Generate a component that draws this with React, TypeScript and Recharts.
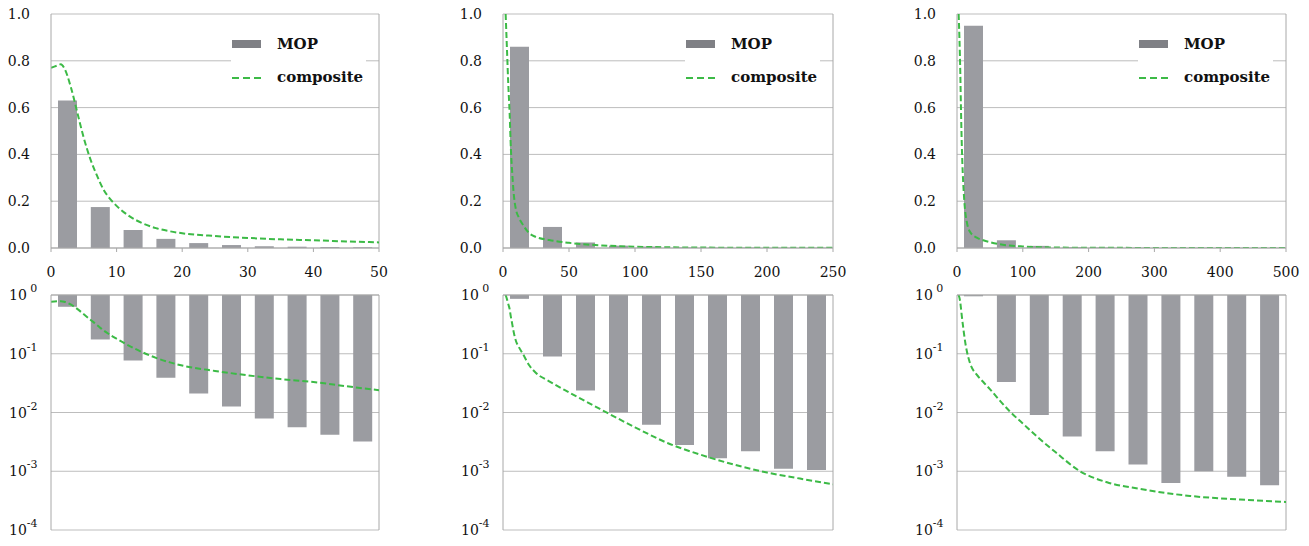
import React from "react";
import {
  ComposedChart,
  Bar,
  Line,
  XAxis,
  YAxis,
  CartesianGrid,
  ReferenceLine,
  Legend,
} from "recharts";

const FONT = '"DejaVu Serif", "Liberation Serif", serif';
const TEXT = "#111";
const BAR_GRAY = "#9b9ca1";
const ICON_GRAY = "#7f8085";
const GREEN = "#3cba46";
const AXIS_GRAY = "#a8a8a8";
const GRID_GRAY = "#bdbdbd";

// bin centres of the MOP bars, one list per column
const binsA = [2.5, 7.5, 12.5, 17.5, 22.5, 27.5, 32.5, 37.5, 42.5, 47.5];
const binsB = [12.5, 37.5, 62.5, 87.5, 112.5, 137.5, 162.5, 187.5, 212.5, 237.5];
const binsC = [25, 75, 125, 175, 225, 275, 325, 375, 425, 475];

// MOP bar heights
const mopA = [0.63, 0.175, 0.077, 0.039, 0.021, 0.0126, 0.0079, 0.0056, 0.0042, 0.0032];
const mopB = [0.86, 0.09, 0.0236, 0.01, 0.0062, 0.0028, 0.00167, 0.0022, 0.0011, 0.00105];
const mopC = [0.95, 0.033, 0.0091, 0.0039, 0.0022, 0.0013, 0.00063, 0.001, 0.00081, 0.00058];

// composite curve
const compXA = [0, 1, 1.5, 2, 3, 4, 5, 6, 7, 8, 9, 10, 12, 14, 16, 18, 20, 25, 30, 35, 40, 45, 50];
const compYA = [0.77, 0.78, 0.785, 0.77, 0.69, 0.58, 0.47, 0.38, 0.31, 0.25, 0.21, 0.18, 0.135, 0.105, 0.085, 0.072, 0.063, 0.051, 0.043, 0.037, 0.033, 0.028, 0.024];
const compXB = [2, 3, 4, 5, 6, 7, 8, 9, 10, 12, 15, 20, 25, 35, 50, 75, 100, 125, 150, 175, 200, 225, 250];
const compYB = [1.0, 0.85, 0.7, 0.58, 0.42, 0.32, 0.24, 0.19, 0.16, 0.13, 0.1, 0.063, 0.047, 0.034, 0.022, 0.011, 0.0056, 0.003, 0.0019, 0.0013, 0.00095, 0.00075, 0.0006];
const compXC = [2.5, 5, 6, 7.5, 10, 12, 15, 20, 30, 40, 50, 65, 80, 100, 125, 150, 187, 228, 278, 354, 430, 500];
const compYC = [1.0, 0.75, 0.6, 0.42, 0.25, 0.17, 0.11, 0.068, 0.044, 0.033, 0.025, 0.016, 0.0105, 0.0065, 0.0036, 0.0021, 0.001, 0.00065, 0.0005, 0.00038, 0.00033, 0.0003];

const xTicksA = [0, 10, 20, 30, 40, 50];
const xTicksB = [0, 50, 100, 150, 200, 250];
const xTicksC = [0, 100, 200, 300, 400, 500];
const linTicks = [0, 0.2, 0.4, 0.6, 0.8, 1.0];
const logTicks = [1e-4, 1e-3, 1e-2, 1e-1, 1];

const panels = [
  { left: 0, width: 400, ml: 5, mr: 21, bins: binsA, mop: mopA, cx: compXA, cy: compYA, xMax: 50, xTicks: xTicksA },
  { left: 440, width: 420, ml: 17, mr: 27, bins: binsB, mop: mopB, cx: compXB, cy: compYB, xMax: 250, xTicks: xTicksB },
  { left: 890, width: 419, ml: 21, mr: 23, bins: binsC, mop: mopC, cx: compXC, cy: compYC, xMax: 500, xTicks: xTicksC },
];

const tickStyle = { fontSize: 14, fill: TEXT, fontFamily: FONT };

function LegendBox() {
  return (
    <div
      style={{
        position: "relative",
        width: 135,
        height: 66,
        background: "#fff",
        fontFamily: FONT,
        fontWeight: "bold",
        fontSize: 15,
        lineHeight: "16px",
        color: TEXT,
      }}
    >
      <div style={{ position: "absolute", left: 1, top: 12, width: 29, height: 8, background: ICON_GRAY }} />
      <span style={{ position: "absolute", left: 46, top: 8 }}>MOP</span>
      <svg style={{ position: "absolute", left: 1, top: 48 }} width={30} height={4}>
        <line x1={0} y1={2} x2={30} y2={2} stroke={GREEN} strokeWidth={2} strokeDasharray="7 4" />
      </svg>
      <span style={{ position: "absolute", left: 46, top: 41 }}>composite</span>
    </div>
  );
}

function LogTick({ x, y, payload }: any) {
  const e = Math.round(Math.log10(payload.value));
  return (
    <text x={x - 42} y={y} dy={5} textAnchor="start" fill={TEXT} fontFamily={FONT} fontSize={14}>
      <tspan>10</tspan>
      <tspan dy={-8} fontSize={11}>
        {e === 0 ? " 0" : String(e)}
      </tspan>
    </text>
  );
}

function TopPanel({ p }: any) {
  const bars = p.bins.map((x: number, i: number) => ({ x, mop: p.mop[i] }));
  const comp = p.cx.map((x: number, i: number) => ({ x, y: p.cy[i] }));
  const plotRight = p.width - p.mr;
  return (
    <div style={{ position: "absolute", left: p.left, top: 0 }}>
      <ComposedChart
        width={p.width}
        height={280}
        data={bars}
        margin={{ top: 14, right: p.mr, bottom: 2, left: p.ml }}
      >
        <CartesianGrid vertical={false} stroke={GRID_GRAY} />
        <XAxis
          type="number"
          dataKey="x"
          domain={[0, p.xMax]}
          ticks={p.xTicks}
          allowDataOverflow
          height={30}
          tickSize={4}
          tickMargin={15}
          tick={tickStyle}
          axisLine={{ stroke: AXIS_GRAY }}
          tickLine={{ stroke: AXIS_GRAY }}
        />
        <XAxis xAxisId="line" type="number" dataKey="x" domain={[0, p.xMax]} allowDataOverflow hide />
        <YAxis
          domain={[0, 1]}
          ticks={linTicks}
          allowDataOverflow
          width={46}
          tickSize={0}
          tickMargin={21}
          tick={tickStyle}
          tickFormatter={(v: number) => v.toFixed(1)}
          axisLine={{ stroke: AXIS_GRAY }}
        />
        <ReferenceLine x={p.xMax} stroke={AXIS_GRAY} />
        <Bar dataKey="mop" fill={BAR_GRAY} barSize={19} isAnimationActive={false} />
        <Line
          xAxisId="line"
          data={comp}
          dataKey="y"
          type="monotone"
          stroke={GREEN}
          strokeWidth={2}
          strokeDasharray="6 3"
          dot={false}
          isAnimationActive={false}
        />
        <Legend
          layout="vertical"
          align="center"
          verticalAlign="middle"
          wrapperStyle={{ left: plotRight - 148, top: 28, width: 135, height: 66 }}
          content={() => <LegendBox />}
        />
      </ComposedChart>
    </div>
  );
}

function BottomPanel({ p }: any) {
  const bars = p.bins.map((x: number, i: number) => ({ x, mop: p.mop[i] }));
  const comp = p.cx.map((x: number, i: number) => ({ x, y: p.cy[i] }));
  return (
    <div style={{ position: "absolute", left: p.left, top: 280 }}>
      <ComposedChart
        width={p.width}
        height={266}
        data={bars}
        margin={{ top: 10, right: p.mr, bottom: 16, left: p.ml }}
      >
        <CartesianGrid vertical={false} stroke={GRID_GRAY} />
        <XAxis
          orientation="top"
          type="number"
          dataKey="x"
          domain={[0, p.xMax]}
          ticks={p.xTicks}
          allowDataOverflow
          height={5}
          tickSize={4}
          tick={false}
          axisLine={{ stroke: AXIS_GRAY }}
          tickLine={{ stroke: AXIS_GRAY }}
        />
        <XAxis xAxisId="line" type="number" dataKey="x" domain={[0, p.xMax]} allowDataOverflow hide />
        <YAxis
          scale="log"
          domain={[1e-4, 1]}
          ticks={logTicks}
          allowDataOverflow
          width={46}
          tickSize={0}
          tickMargin={0}
          tick={<LogTick />}
          axisLine={{ stroke: AXIS_GRAY }}
        />
        <ReferenceLine x={p.xMax} stroke={AXIS_GRAY} />
        <Bar
          dataKey={(d: any) => [d.mop, 1]}
          fill={BAR_GRAY}
          barSize={19}
          isAnimationActive={false}
        />
        <Line
          xAxisId="line"
          data={comp}
          dataKey="y"
          type="monotone"
          stroke={GREEN}
          strokeWidth={2}
          strokeDasharray="6 3"
          dot={false}
          isAnimationActive={false}
        />
      </ComposedChart>
    </div>
  );
}

export default function App() {
  return (
    <div style={{ position: "absolute", left: 0, top: 0, width: 1309, height: 546, background: "#fff" }}>
      {panels.map((p, i) => (
        <TopPanel key={"t" + i} p={p} />
      ))}
      {panels.map((p, i) => (
        <BottomPanel key={"b" + i} p={p} />
      ))}
    </div>
  );
}
